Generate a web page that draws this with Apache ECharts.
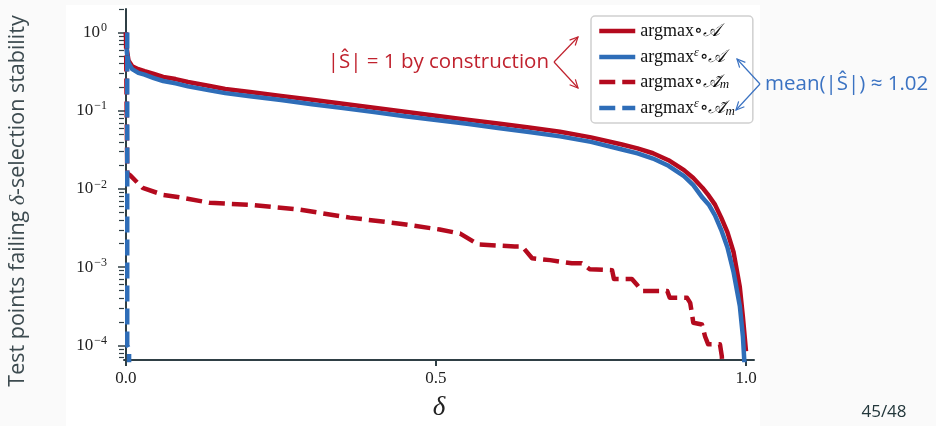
<!DOCTYPE html>
<html lang="en">
<head>
<meta charset="UTF-8">
<title>delta-selection stability</title>
<script src="https://cdn.jsdelivr.net/npm/echarts@6/dist/echarts.min.js"></script>
<style>
    html, body { margin: 0; background: #fafafa; }
    #chart { width: 936px; height: 426px; }
</style>
</head>
<body>
<div id="chart"></div>
<script>
// values (fraction of test points failing, log scale)
const deltaSolid = [0, 0.0015, 0.004, 0.01, 0.02, 0.03, 0.045, 0.06, 0.08, 0.1, 0.135, 0.16, 0.2, 0.25, 0.3, 0.35, 0.4, 0.45, 0.5, 0.55, 0.6, 0.65, 0.7, 0.75, 0.8, 0.825, 0.85, 0.875, 0.9, 0.915, 0.93, 0.94, 0.95, 0.96, 0.97, 0.98, 0.99, 0.995, 1.0];
const failArgmax = [1.0, 0.6, 0.44, 0.37, 0.34, 0.32, 0.295, 0.27, 0.254, 0.233, 0.207, 0.19, 0.174, 0.155, 0.138, 0.123, 0.109, 0.097, 0.0865, 0.077, 0.0685, 0.061, 0.054, 0.0457, 0.037, 0.033, 0.0286, 0.0233, 0.0174, 0.0138, 0.0103, 0.0082, 0.0063, 0.0043, 0.0028, 0.00155, 0.00056, 0.00023, 0.000084];

const deltaSolidEps = [0, 0.0015, 0.004, 0.01, 0.02, 0.03, 0.045, 0.06, 0.08, 0.1, 0.135, 0.16, 0.2, 0.25, 0.3, 0.35, 0.4, 0.45, 0.5, 0.55, 0.6, 0.65, 0.7, 0.75, 0.8, 0.825, 0.85, 0.875, 0.9, 0.915, 0.93, 0.94, 0.95, 0.96, 0.97, 0.98, 0.99, 0.995, 0.998];
const failArgmaxEps = [1.0, 0.55, 0.41, 0.34, 0.305, 0.29, 0.262, 0.24, 0.224, 0.205, 0.182, 0.168, 0.153, 0.137, 0.121, 0.108, 0.096, 0.085, 0.076, 0.068, 0.06, 0.0535, 0.047, 0.04, 0.032, 0.0285, 0.0245, 0.0198, 0.0146, 0.0112, 0.0077, 0.0063, 0.0046, 0.003, 0.0018, 0.00086, 0.00032, 0.00013, 0.00005];

const deltaDashed = [0, 0.002, 0.0065, 0.027, 0.06, 0.092, 0.135, 0.2, 0.281, 0.361, 0.442, 0.506, 0.539, 0.568, 0.627, 0.639, 0.655, 0.684, 0.719, 0.735, 0.748, 0.784, 0.787, 0.816, 0.823, 0.832, 0.873, 0.877, 0.905, 0.91, 0.913, 0.915, 0.929, 0.934, 0.939, 0.958, 0.961, 0.962];
const failArgmaxM = [1.0, 0.016, 0.015, 0.0103, 0.0084, 0.0077, 0.00665, 0.00627, 0.00542, 0.0043, 0.0036, 0.00303, 0.00269, 0.00195, 0.00184, 0.00184, 0.0013, 0.00123, 0.00112, 0.00112, 0.00094, 0.000916, 0.000705, 0.000705, 0.00061, 0.000497, 0.000497, 0.000405, 0.000405, 0.00035, 0.000247, 0.000195, 0.000185, 0.00013, 0.000103, 0.000103, 0.0000726, 0.00005];

const deltaDashedEps = [0.002, 0.002, 0.005, 0.005];
const failArgmaxEpsM = [1.0, 0.0001, 0.00009, 0.00005];

const xTicks = [0, 0.5, 1.0];
const yMajor = [1e-4, 1e-3, 1e-2, 1e-1, 1];
const yMinor = [];
[-5, -4, -3, -2, -1, 0].forEach(function (e) {
    for (let k = 2; k <= 9; k++) yMinor.push(k * Math.pow(10, e));
});

const seriesNames = ['argmax∘A', 'argmaxε∘A', 'argmax∘Am', 'argmaxε∘Am'];
const legendText = {
    'argmax∘A': 'argmax∘{c|𝒜}',
    'argmaxε∘A': 'argmax{s|ε}∘{c|𝒜}',
    'argmax∘Am': 'argmax∘{c|𝒜̃}{m|m}',
    'argmaxε∘Am': 'argmax{s|ε}∘{c|𝒜̃}{m|m}'
};

const RED = '#b40a1e';
const BLUE = '#2e6db8';
const AXIS = '#2f3f45';
const TITLE = '#3d4b50';
const SERIF = '"Liberation Serif", "DejaVu Serif", serif';
const SANS = '"Open Sans", "Noto Sans", sans-serif';
const DASH = [16, 7];

function zip(xs, ys) {
    return xs.map((x, i) => [x, ys[i]]);
}

function sup(n) {
    return String(n).replace('-', '−');
}

// small open arrow head at tip, coming from "from"
function arrowHead(tip, from, color) {
    const dx = tip[0] - from[0], dy = tip[1] - from[1];
    const len = Math.sqrt(dx * dx + dy * dy);
    const ux = dx / len, uy = dy / len;
    const s = 9, a = Math.PI / 7;
    const p1 = [tip[0] - s * (ux * Math.cos(a) - uy * Math.sin(a)), tip[1] - s * (uy * Math.cos(a) + ux * Math.sin(a))];
    const p2 = [tip[0] - s * (ux * Math.cos(a) + uy * Math.sin(a)), tip[1] - s * (uy * Math.cos(a) - ux * Math.sin(a))];
    return {
        type: 'polyline', z: 100,
        shape: { points: [p1, tip, p2] },
        style: { stroke: color, lineWidth: 1.2, fill: null }
    };
}

function arrowPair(apex, tips, color) {
    const els = [];
    tips.forEach(function (t) {
        els.push({
            type: 'line', z: 100,
            shape: { x1: apex[0], y1: apex[1], x2: t[0], y2: t[1] },
            style: { stroke: color, lineWidth: 1.2 }
        });
        els.push(arrowHead(t, apex, color));
    });
    return els;
}

const chart = echarts.init(document.getElementById('chart'));

const lineSeries = function (name, data, color, dashed) {
    return {
        name: name,
        type: 'line',
        data: data,
        showSymbol: false,
        symbol: 'none',
        clip: true,
        lineStyle: { color: color, width: 4.5, type: dashed ? DASH : 'solid', join: 'round' },
        itemStyle: { color: color }
    };
};

const legendData = [
    { name: seriesNames[0], lineStyle: { width: 4.5, type: 'solid', color: RED } },
    { name: seriesNames[1], lineStyle: { width: 4.5, type: 'solid', color: BLUE } },
    { name: seriesNames[2], lineStyle: { width: 4.5, type: DASH, color: RED } },
    { name: seriesNames[3], lineStyle: { width: 4.5, type: DASH, color: BLUE } }
];

const option = {
    animation: false,
    backgroundColor: '#fafafa',
    grid: { left: 124, right: 182, top: 9, bottom: 62 },
    xAxis: {
        type: 'value',
        min: -0.0032,
        max: 1.0129,
        name: 'δ',
        nameLocation: 'middle',
        nameGap: 34,
        nameTextStyle: { fontFamily: SERIF, fontStyle: 'italic', fontSize: 27, color: '#222' },
        axisLine: { lineStyle: { color: AXIS, width: 2 } },
        axisTick: { customValues: xTicks, length: 6, lineStyle: { color: AXIS, width: 2 } },
        axisLabel: {
            customValues: xTicks,
            formatter: v => v.toFixed(1),
            margin: 10, fontFamily: SERIF, fontSize: 17, color: '#222'
        },
        splitLine: { show: false }
    },
    yAxis: [{
        type: 'log',
        logBase: 10,
        min: 6.5e-5,
        max: 2,
        axisLine: { lineStyle: { color: AXIS, width: 2 } },
        axisTick: { customValues: yMajor, length: 8, lineStyle: { color: AXIS, width: 1.5 } },
        axisLabel: {
            customValues: yMajor,
            margin: 17,
            formatter: function (v) {
                return '{b|10}{s|' + sup(Math.round(Math.log10(v))) + '}';
            },
            rich: {
                b: { fontFamily: SERIF, fontSize: 17, color: '#222' },
                s: { fontFamily: SERIF, fontSize: 12, color: '#222', verticalAlign: 'top', padding: [0, 0, 9, 1] }
            }
        },
        splitLine: { show: false }
    }, {
        type: 'log',
        logBase: 10,
        min: 6.5e-5,
        max: 2,
        position: 'left',
        axisLine: { show: false },
        axisTick: { customValues: yMinor, length: 5, lineStyle: { color: AXIS, width: 1.2 } },
        axisLabel: { show: false },
        splitLine: { show: false }
    }],
    legend: {
        orient: 'vertical',
        left: 591,
        top: 16,
        data: legendData,
        itemWidth: 36,
        itemHeight: 14,
        itemGap: 7,
        padding: [6, 18, 5, 6],
        backgroundColor: '#fff',
        borderColor: '#d0d0d0',
        borderWidth: 1.5,
        borderRadius: 4,
        itemStyle: { opacity: 0 },
        formatter: name => legendText[name],
        textStyle: {
            fontFamily: SERIF, fontSize: 18, color: '#111',
            rich: {
                c: { fontFamily: SERIF, fontStyle: 'italic', fontSize: 18, color: '#111' },
                s: { fontFamily: SERIF, fontStyle: 'italic', fontSize: 12, color: '#111', verticalAlign: 'top', padding: [0, 1, 8, 0] },
                m: { fontFamily: SERIF, fontStyle: 'italic', fontSize: 13, color: '#111', verticalAlign: 'bottom', padding: [5, 0, 0, 0] }
            }
        }
    },
    series: [
        lineSeries(seriesNames[0], zip(deltaSolid, failArgmax), RED, false),
        lineSeries(seriesNames[1], zip(deltaSolidEps, failArgmaxEps), BLUE, false),
        lineSeries(seriesNames[2], zip(deltaDashed, failArgmaxM), RED, true),
        lineSeries(seriesNames[3], zip(deltaDashedEps, failArgmaxEpsM), BLUE, true)
    ],
    graphic: [
        { type: 'rect', z: -10, silent: true, shape: { x: 66, y: 5, width: 694, height: 421 }, style: { fill: '#ffffff' } },
        {
            type: 'text', z: 100, x: 18, y: 201, rotation: Math.PI / 2,
            style: {
                text: 'Test points failing {i|δ}-selection stability',
                textAlign: 'center', textVerticalAlign: 'middle', align: 'center', verticalAlign: 'middle',
                font: '21.5px ' + SANS, fill: TITLE,
                rich: { i: { fontFamily: SERIF, fontStyle: 'italic', fontSize: 22, fill: TITLE, color: TITLE } }
            }
        },
        {
            type: 'text', z: 100,
            style: {
                text: '|Ŝ| = 1 by construction', x: 549, y: 62,
                textAlign: 'right', textVerticalAlign: 'middle', align: 'right', verticalAlign: 'middle',
                font: '20.5px ' + SANS, fill: '#c0222e'
            }
        },
        {
            type: 'text', z: 100,
            style: {
                text: 'mean(|Ŝ|) ≈ 1.02', x: 765, y: 84,
                textAlign: 'left', textVerticalAlign: 'middle', align: 'left', verticalAlign: 'middle',
                font: '20.5px ' + SANS, fill: '#3a72c2'
            }
        },
        {
            type: 'text', z: 100,
            style: {
                text: '45/48', x: 884, y: 412,
                textAlign: 'center', textVerticalAlign: 'middle', align: 'center', verticalAlign: 'middle',
                font: '17px ' + SANS, fill: '#23373b'
            }
        }
    ].concat(
        arrowPair([554, 62], [[578, 37], [578, 88]], '#c0222e'),
        arrowPair([760, 84], [[737, 59], [736, 110]], '#3a72c2')
    )
};

chart.setOption(option);
</script>
</body>
</html>
